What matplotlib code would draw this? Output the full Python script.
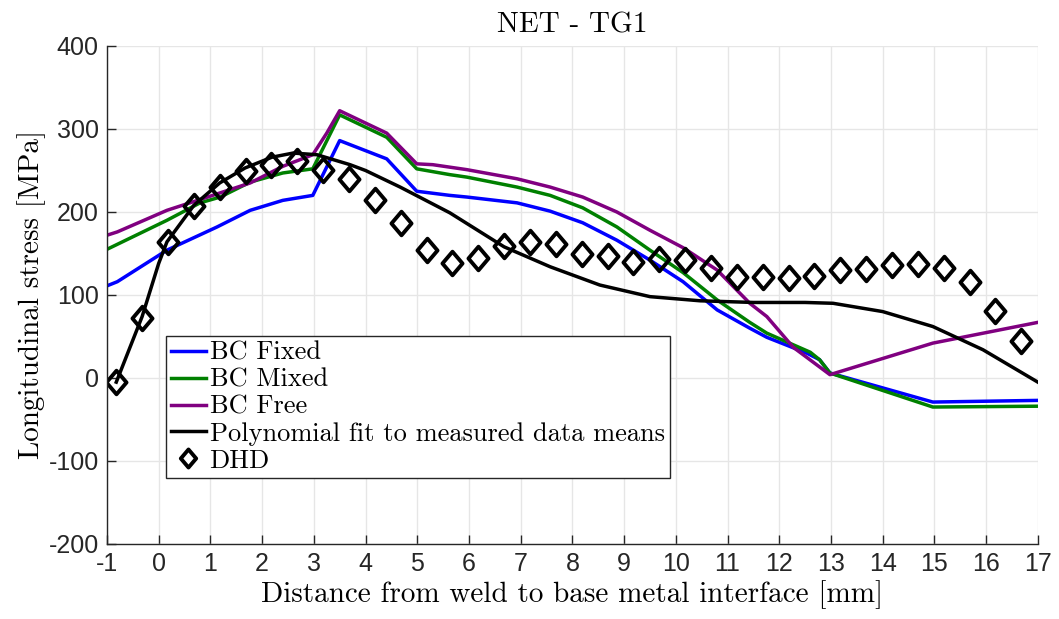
import matplotlib
matplotlib.use("Agg")
import matplotlib.pyplot as plt
import numpy as np
from matplotlib.path import Path

# --- Measured data (DHD) ---
dhd_x = [-0.82, -0.32, 0.18, 0.68, 1.18, 1.68, 2.18, 2.68, 3.18, 3.68, 4.18, 4.68,
         5.18, 5.68, 6.18, 6.68, 7.18, 7.68, 8.18, 8.68, 9.18, 9.68, 10.18, 10.68,
         11.18, 11.68, 12.18, 12.68, 13.18, 13.68, 14.18, 14.68, 15.18, 15.68, 16.18, 16.68]
dhd_y = [-5, 72, 164, 207, 230, 249, 257, 261, 251, 240, 214, 187,
         154, 139, 145, 159, 164, 162, 149, 147, 140, 143, 142, 132,
         122, 122, 120, 123, 130, 131, 136, 137, 132, 116, 81, 45]

# --- Polynomial fit to measured data means ---
fit_x = [-0.82, -0.32, 0.0, 0.16, 0.68, 1.18, 1.67, 2.19, 2.6, 3.06, 3.7, 4.0, 4.67,
         5.63, 6.68, 7.57, 8.53, 9.5, 10.47, 11.5, 12.5, 13.04, 14.0, 14.97, 15.94, 17.0]
fit_y = [-5, 74, 138, 164, 208, 235, 253, 266, 271, 269, 257, 250, 230,
         199, 158, 134, 112, 98, 93, 91, 91, 90, 80, 62, 34, -5]

# --- FE simulations ---
fixed_x = [-1.0, -0.8, 0.16, 1.13, 1.77, 2.4, 2.98, 3.5, 4.41, 4.99, 5.63, 5.96, 6.93,
           7.57, 8.2, 8.86, 9.5, 10.14, 10.8, 11.43, 11.76, 12.53, 12.78, 12.98, 14.97, 17.0]
fixed_y = [111, 116, 154, 182, 202, 214, 220, 286, 264, 225, 220, 218, 211,
           201, 187, 166, 142, 116, 82, 60, 49, 30, 22, 6, -29, -27]

mixed_x = [-1.0, 0.16, 0.8, 1.19, 1.77, 2.4, 2.98, 3.5, 4.41, 4.99, 5.63, 5.96, 6.93,
           7.57, 8.2, 8.86, 9.5, 10.14, 10.8, 11.43, 11.76, 12.6, 12.78, 12.98, 14.97, 17.0]
mixed_y = [155, 190, 211, 218, 236, 247, 252, 317, 290, 252, 245, 242, 230,
           220, 205, 182, 154, 127, 94, 67, 54, 31, 22, 6, -35, -34]

free_x = [-1.0, -0.8, 0.16, 0.8, 1.77, 2.4, 2.98, 3.25, 3.5, 4.41, 4.99, 5.3, 5.96, 6.93,
          7.57, 8.2, 8.86, 9.5, 10.14, 10.8, 11.43, 11.76, 12.27, 12.98, 14.97, 17.0]
free_y = [172, 176, 202, 215, 235, 255, 269, 295, 322, 295, 258, 257, 251, 240,
          230, 218, 200, 178, 157, 130, 90, 74, 37, 4, 42, 67]

x_ticks = list(range(-1, 18))
y_ticks = [-200, -100, 0, 100, 200, 300, 400]

serif = "cmr10"
tick_font = "Liberation Sans"
dark = "#262626"

# diamond a bit narrower than it is tall
diamond = Path([(0, 1), (0.85, 0), (0, -1), (-0.85, 0), (0, 1)],
               [Path.MOVETO, Path.LINETO, Path.LINETO, Path.LINETO, Path.CLOSEPOLY])

fig = plt.figure(figsize=(10.59, 6.19), dpi=100)
ax = fig.add_axes([0.101, 0.1212, 0.879, 0.8045])

ax.plot(fixed_x, fixed_y, color=(0, 0, 1), lw=2.5, label="BC Fixed")
ax.plot(mixed_x, mixed_y, color=(0, 0.5, 0), lw=2.5, label="BC Mixed")
ax.plot(free_x, free_y, color=(0.5, 0, 0.5), lw=2.5, label="BC Free")
ax.plot(fit_x, fit_y, color="black", lw=2.5, label="Polynomial fit to measured data means")
ax.plot(dhd_x, dhd_y, ls="none", marker=diamond, ms=17, mfc="none", mec="black",
        mew=2.8, label="DHD")

ax.set_xlim(-1, 17)
ax.set_ylim(-200, 400)
ax.set_xticks(x_ticks)
ax.set_yticks(y_ticks)
ax.set_xticklabels([str(v) for v in x_ticks])
ax.set_yticklabels([str(v) for v in y_ticks])
for lab in ax.get_xticklabels() + ax.get_yticklabels():
    lab.set_fontfamily(tick_font)
    lab.set_fontsize(18)
    lab.set_color(dark)

ax.tick_params(direction="in", length=6.5, width=1, colors=dark, pad=6)
ax.grid(True, color="#e6e6e6", lw=1)
ax.set_axisbelow(True)
for side in ["top", "right"]:
    ax.spines[side].set_visible(False)
for side in ["left", "bottom"]:
    ax.spines[side].set_color(dark)
    ax.spines[side].set_linewidth(1)

ax.set_title("NET - TG1", fontfamily=serif, fontsize=21, pad=10)
ax.set_xlabel("Distance from weld to base metal interface [mm]", fontfamily=serif,
              fontsize=21, labelpad=3)
ax.set_ylabel("Longitudinal stress [MPa]", fontfamily=serif, fontsize=21, labelpad=2)

leg = ax.legend(loc="upper left", bbox_to_anchor=(0.0634, 0.4177), borderaxespad=0,
                prop={"family": serif, "size": 19}, fancybox=False, framealpha=1,
                edgecolor=dark, handlelength=1.3, handletextpad=0.15,
                labelspacing=0.12, borderpad=0.2)
leg.get_frame().set_linewidth(1)
leg.legend_handles[4].set_markersize(13)

fig.savefig("out.png", dpi=100)
